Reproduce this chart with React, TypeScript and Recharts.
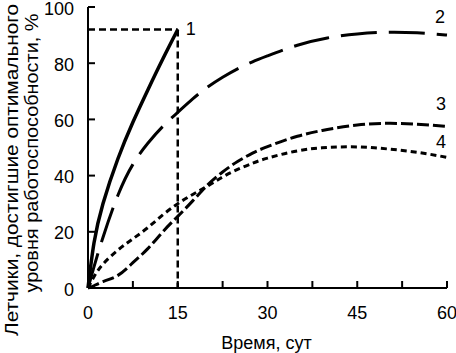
import { LineChart, Line, XAxis, YAxis, ReferenceLine } from "recharts";

// time, days
const days = [0, 1, 2.5, 5, 7.5, 10, 12.5, 15, 17.5, 20, 22.5, 25, 27.5, 30, 35, 40, 45, 50, 55, 60];

// share of pilots that reached optimal working level, %
const curve1 = [0, 16, 30, 46, 59, 70.5, 81.5, 92, null, null, null, null, null, null, null, null, null, null, null, null];
const curve2 = [0, 7.5, 18, 33, 44, 51.5, 57.5, 62.5, 67.3, 71.5, 75, 78, 80.5, 82.6, 86.4, 89, 90.4, 91, 90.8, 90];
const curve3 = [0, 0.8, 2.3, 4.5, 9, 14, 20, 25.5, 31, 36.7, 41.3, 45, 48, 50.3, 54, 56.4, 58, 58.6, 58.3, 57.5];
const curve4 = [0, 4, 8.5, 13.5, 17.5, 21.5, 26, 30, 33.3, 36.3, 39.5, 42.2, 44.4, 46.2, 48.8, 50, 50.2, 49.5, 48.3, 46.5];

const xTicks = [0, 7.5, 15, 22.5, 30, 37.5, 45, 52.5, 60];
const yTicks = [0, 20, 40, 60, 80, 100];

// dashed guide to curve 1 end point
const refDay = 15;
const refLevel = 92;

const data = days.map((d, i) => ({
  day: d,
  c1: curve1[i],
  c2: curve2[i],
  c3: curve3[i],
  c4: curve4[i],
}));

const font = "'Liberation Sans', Arial, sans-serif";

const XTick = (props: any) => {
  const { x, y, payload } = props;
  return (
    <g>
      <line x1={x} x2={x} y1={y} y2={y - 7} stroke="#000" strokeWidth={2} />
      {payload.value % 15 === 0 && (
        <text x={x} y={y + 31} textAnchor="middle" fontSize={18} fontFamily={font} fill="#000">
          {payload.value}
        </text>
      )}
    </g>
  );
};

const YTick = (props: any) => {
  const { x, y, payload } = props;
  return (
    <g>
      <line x1={x} x2={x + 7} y1={y} y2={y} stroke="#000" strokeWidth={2} />
      <text x={x - 14} y={y + 7.5} textAnchor="end" fontSize={18} fontFamily={font} fill="#000">
        {payload.value}
      </text>
    </g>
  );
};

const XTitle = (props: any) => {
  const { x, y, width } = props.viewBox;
  return (
    <text x={x + width / 2 - 1} y={y + 61} textAnchor="middle" fontSize={18} fontFamily={font} fill="#000">
      Время, сут
    </text>
  );
};

const YTitle = () => (
  <g fontSize={18} fontFamily={font} fill="#000">
    <text transform="translate(18,170) rotate(-90)" textAnchor="middle" textLength={332} lengthAdjust="spacingAndGlyphs">
      Летчики, достигшие оптимального
    </text>
    <text transform="translate(38,153) rotate(-90)" textAnchor="middle" textLength={279} lengthAdjust="spacingAndGlyphs">
      уровня работоспособности, %
    </text>
  </g>
);

const endLabel = (text: string, last: number, dx: number, dy: number) => (props: any) => {
  if (props.index !== last) return null;
  return (
    <text key={text} x={props.x + dx} y={props.y + dy} textAnchor="middle" fontSize={18} fontFamily={font} fill="#000">
      {text}
    </text>
  );
};

export default function App() {
  const last = days.length - 1;
  return (
    <div style={{ position: "absolute", left: 0, top: 0 }}>
      <LineChart width={456} height={353} data={data} margin={{ top: 7, right: 9, left: 0, bottom: 0 }}>
        <XAxis
          dataKey="day"
          type="number"
          domain={[0, 60]}
          ticks={xTicks}
          interval={0}
          tickSize={0}
          tickMargin={0}
          tick={<XTick />}
          tickLine={false}
          axisLine={{ stroke: "#000", strokeWidth: 2 }}
          height={65}
          label={<XTitle />}
        />
        <YAxis
          type="number"
          domain={[0, 100]}
          ticks={yTicks}
          interval={0}
          tickSize={0}
          tickMargin={0}
          tick={<YTick />}
          tickLine={false}
          axisLine={{ stroke: "#000", strokeWidth: 2 }}
          width={88}
          label={<YTitle />}
        />
        <ReferenceLine
          segment={[{ x: 0, y: refLevel }, { x: refDay, y: refLevel }]}
          stroke="#000"
          strokeWidth={2.5}
          strokeDasharray="7 4"
        />
        <ReferenceLine
          segment={[{ x: refDay, y: refLevel }, { x: refDay, y: 0 }]}
          stroke="#000"
          strokeWidth={2.5}
          strokeDasharray="7 4"
        />
        <Line dataKey="c4" type="natural" stroke="#000" strokeWidth={3} strokeDasharray="6 4" dot={false}
          isAnimationActive={false} label={endLabel("4", last, -6, -9)} />
        <Line dataKey="c3" type="natural" stroke="#000" strokeWidth={3} strokeDasharray="12 4" dot={false}
          isAnimationActive={false} label={endLabel("3", last, -6, -16)} />
        <Line dataKey="c2" type="natural" stroke="#000" strokeWidth={3} strokeDasharray="36 12" dot={false}
          isAnimationActive={false} label={endLabel("2", last, -7, -12)} />
        <Line dataKey="c1" type="natural" stroke="#000" strokeWidth={3.5} dot={false}
          isAnimationActive={false} label={endLabel("1", 7, 13, 6)} />
      </LineChart>
    </div>
  );
}
